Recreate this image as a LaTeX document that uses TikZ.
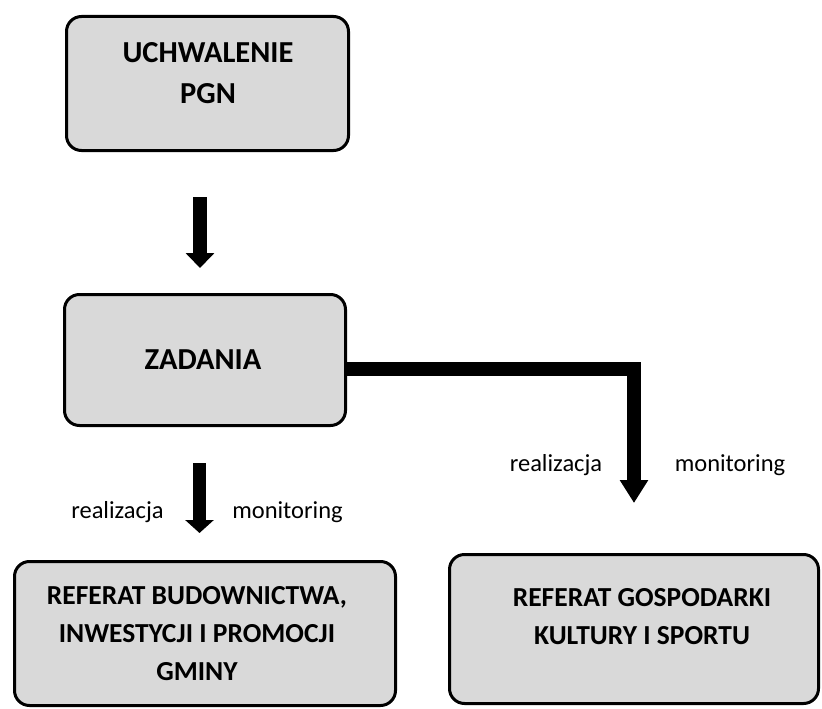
\documentclass[tikz,border=0pt]{standalone}
\usepackage{fontspec}
\setmainfont{Carlito}
\usetikzlibrary{arrows.meta}
\definecolor{boxgray}{HTML}{D9D9D9}
\tikzset{
  box/.style={draw=black, fill=boxgray, line width=3pt, rounded corners=15pt, inner sep=0pt},
  bigtext/.style={align=center, font=\bfseries\fontsize{30.5}{41}\selectfont, inner sep=0pt},
  midtext/.style={align=center, font=\bfseries\fontsize{27.5}{38}\selectfont, inner sep=0pt},
  lbl/.style={font=\fontsize{24.5}{28}\selectfont, anchor=base, inner sep=0pt},
  bigarrow/.style={line width=14pt, -{Triangle[length=15pt,width=28pt]}},
  elbowarrow/.style={line width=14pt, line join=miter, -{Triangle[length=23pt,width=27pt]}}
}
\begin{document}
\begin{tikzpicture}[x=1pt,y=-1pt]
\useasboundingbox (0,0) rectangle (822,709);
% boxes
\node[box, minimum width=282pt, minimum height=134pt] (b1) at (207.5,83.5) {};
\node[bigtext] (t1) at (208,73) {UCHWALENIE\\PGN};
\node[box, minimum width=281pt, minimum height=131pt] (b2) at (205,360) {};
\node[bigtext] (t2) at (203,360) {ZADANIA};
\node[box, minimum width=381pt, minimum height=144pt] (b3) at (205,633.5) {};
\node[midtext] (t3) at (197,634) {REFERAT BUDOWNICTWA,\\INWESTYCJI I PROMOCJI\\GMINY};
\node[box, minimum width=369pt, minimum height=149pt] (b4) at (634,629) {};
\node[midtext] (t4) at (642,616.5) {REFERAT GOSPODARKI\\KULTURY I SPORTU};
% connectors
\draw[bigarrow] ([xshift=-7.5pt,yshift=-45pt]b1.south) -- ([xshift=-5pt,yshift=25pt]b2.north);
\draw[bigarrow, line width=13pt, -{Triangle[length=13pt,width=28pt]}] ([xshift=-5.5pt,yshift=-36pt]b2.south) -- ([xshift=-5.5pt,yshift=27pt]b3.north);
\draw[elbowarrow] ([yshift=-8.5pt]b2.east) -| ([yshift=50pt]b4.north);
% labels
\node[lbl] (l1) at (117.5,518) {realizacja};
\node[lbl] (l2) at (287.5,518) {monitoring};
\node[lbl] (l3) at (556,471) {realizacja};
\node[lbl] (l4) at (730,471) {monitoring};
\end{tikzpicture}
\end{document}
